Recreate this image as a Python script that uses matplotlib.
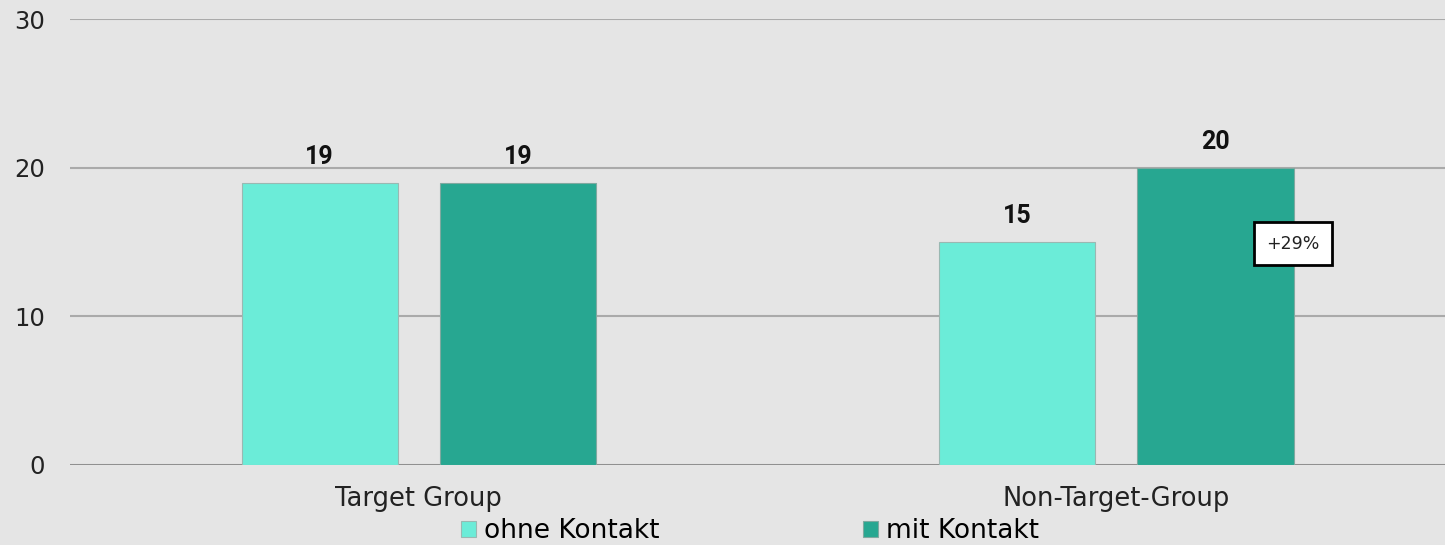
import matplotlib
matplotlib.use("Agg")
import matplotlib.pyplot as plt
import numpy as np

categories = ['Target Group', 'Non-Target-Group']
ohne_kontakt = [19, 15]
mit_kontakt = [19, 20]
series_names = ['ohne Kontakt', 'mit Kontakt']
change_label = '+29%'

plt.rcParams['font.family'] = ['DejaVu Sans']

bg = '#e5e5e5'
light = '#6becd8'
dark = '#27a791'

fig = plt.figure(figsize=(14.45, 5.45), dpi=100, facecolor=bg)
ax = fig.add_axes([0.0484, 0.1468, 0.9516, 0.8182], facecolor=bg)

x = np.arange(len(categories))
w = 0.224
off = 0.142
b1 = ax.bar(x - off, ohne_kontakt, w, color=light, edgecolor='#9ab8b2', linewidth=0.8,
            label=series_names[0], zorder=3)
b2 = ax.bar(x + off, mit_kontakt, w, color=dark, edgecolor='#7fa9a0', linewidth=0.8,
            label=series_names[1], zorder=3)

for bars in (b1, b2):
    for r in bars:
        ax.annotate(f'{r.get_height():g}', (r.get_x() + r.get_width() / 2, r.get_height()),
                    xytext=(0, 10), textcoords='offset points', ha='center', va='bottom',
                    fontsize=18, fontweight='bold', color='#111111', zorder=4,
                    family=['Roboto', 'DejaVu Sans'])

# percentage change box on the second group
r = b2[1]
ax.text(r.get_x() + r.get_width() * 0.995, (ohne_kontakt[1] + mit_kontakt[1]) / 2 - 2.6,
        change_label, ha='center', va='center', fontsize=12.5, color='#222222', zorder=5,
        bbox=dict(boxstyle='square,pad=0.72', facecolor='white', edgecolor='black', linewidth=2))

ax.set_ylim(0, 30)
ax.set_yticks([0, 10, 20, 30])
ax.set_xlim(-0.5, (1445 - 419) / 697.5)
ax.set_xticks(x)
ax.set_xticklabels(categories)
ax.grid(axis='y', color='#aaaaaa', linewidth=1.5, zorder=0)
ax.axhline(0, color='#888888', linewidth=1.8, zorder=2)
for s in ax.spines.values():
    s.set_visible(False)
ax.tick_params(axis='y', length=0, pad=18, labelsize=17.5, labelcolor='#222222')
ax.tick_params(axis='x', length=0, pad=15, labelsize=18.5, labelcolor='#222222')
for t in ax.get_yticklabels():
    t.set_clip_on(False)

fig.legend(handles=[b1, b2], labels=series_names, loc='center', bbox_to_anchor=(0.519, 0.025),
           ncol=2, frameon=False, fontsize=19, handlelength=0.58, handleheight=0.58,
           handletextpad=0.3, columnspacing=7.7, borderaxespad=0, borderpad=0)

fig.savefig('out.png', dpi=100, facecolor=bg)
